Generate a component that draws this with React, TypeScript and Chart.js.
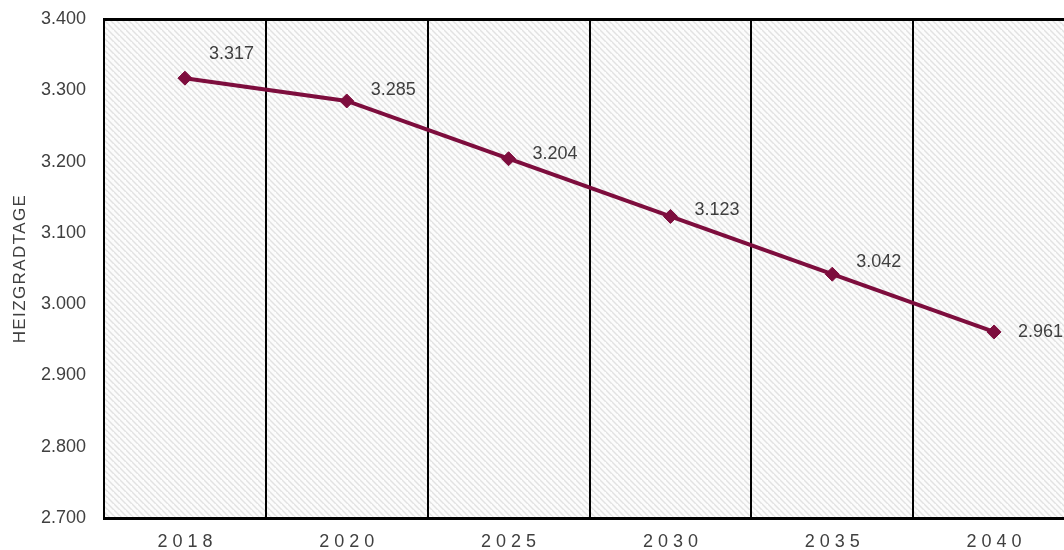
import React, { useEffect, useRef } from "react";
import { Chart, registerables } from "chart.js";

Chart.register(...registerables);

const categories = ["2018", "2020", "2025", "2030", "2035", "2040"];
const heatingDegreeDays = [3317, 3285, 3204, 3123, 3042, 2961];
const valueLabels = ["3.317", "3.285", "3.204", "3.123", "3.042", "2.961"];
const yTickValues = [2700, 2800, 2900, 3000, 3100, 3200, 3300, 3400];
const yAxisTitle = "HEIZGRADTAGE";

const labelDy = [-24, -11, -5, -6, -12, 0];
const FONT = "'Liberation Sans', Arial, sans-serif";

const fmt = (v: number) => {
  const s = String(Math.round(v));
  return s.length > 3 ? s.slice(0, s.length - 3) + "." + s.slice(-3) : s;
};

function makePattern(ctx: CanvasRenderingContext2D) {
  const size = 6;
  const c = document.createElement("canvas");
  c.width = size;
  c.height = size;
  const p = c.getContext("2d")!;
  p.fillStyle = "#fcfcfc";
  p.fillRect(0, 0, size, size);
  p.strokeStyle = "#e2e2e2";
  p.lineWidth = 1.5;
  p.beginPath();
  p.moveTo(-1, -1);
  p.lineTo(size + 1, size + 1);
  p.moveTo(-size - 1, -1);
  p.lineTo(1, size + 1);
  p.moveTo(size - 1, -size - 1);
  p.lineTo(2 * size + 1, size + 1);
  p.stroke();
  return ctx.createPattern(c, "repeat");
}

export default function App() {
  const ref = useRef<HTMLCanvasElement>(null);
  useEffect(() => {
    const canvas = ref.current!;
    const bgPlugin = {
      id: "hatchBg",
      beforeDraw(chart: any) {
        const { ctx, chartArea } = chart;
        ctx.save();
        const pat = makePattern(ctx);
        if (pat) ctx.fillStyle = pat;
        ctx.fillRect(chartArea.left, chartArea.top, chartArea.right - chartArea.left, chartArea.bottom - chartArea.top);
        ctx.restore();
      },
    };
    const labelsPlugin = {
      id: "valueLabels",
      afterDraw(chart: any) {
        const { ctx, chartArea } = chart;
        const xs = chart.scales.x;
        ctx.save();
        // x tick labels with letter spacing
        ctx.font = `18px ${FONT}`;
        ctx.fillStyle = "#404040";
        (ctx as any).letterSpacing = "5px";
        ctx.textAlign = "center";
        ctx.textBaseline = "middle";
        categories.forEach((c, i) => {
          const x = xs.getPixelForValue(i);
          ctx.fillText(c, x + 2.5, chartArea.bottom + 24);
        });
        // y axis title
        ctx.save();
        ctx.font = `17px ${FONT}`;
        (ctx as any).letterSpacing = "1.4px";
        ctx.translate(20, (chartArea.top + chartArea.bottom) / 2);
        ctx.rotate(-Math.PI / 2);
        ctx.fillText(yAxisTitle, 0, 0);
        ctx.restore();
        (ctx as any).letterSpacing = "0px";
        // value labels
        const meta = chart.getDatasetMeta(0);
        ctx.textAlign = "left";
        ctx.font = `18px ${FONT}`;
        meta.data.forEach((pt: any, i: number) => {
          ctx.fillText(valueLabels[i], pt.x + 24, pt.y + labelDy[i]);
        });
        ctx.restore();
      },
    };
    const chart = new Chart(canvas, {
      type: "line",
      data: {
        labels: categories,
        datasets: [
          {
            data: heatingDegreeDays,
            borderColor: "#7d0d3d",
            backgroundColor: "#7d0d3d",
            borderWidth: 4,
            pointStyle: "rectRot",
            pointRadius: 7,
            pointHoverRadius: 7,
            pointBorderWidth: 1,
            tension: 0,
          },
        ],
      },
      options: {
        animation: false,
        responsive: false,
        maintainAspectRatio: false,
        layout: { padding: { top: 19, left: 0, right: 0, bottom: 0 } },
        plugins: { legend: { display: false }, tooltip: { enabled: false } },
        scales: {
          x: {
            offset: true,
            grid: { offset: true, color: "#000", lineWidth: 2, drawTicks: false },
            border: { color: "#000", width: 3 },
            ticks: { display: false },
            afterFit(scale: any) {
              scale.height = 32;
              scale.paddingLeft = 0;
              scale.paddingRight = 0;
            },
          },
          y: {
            min: 2700,
            max: 3400,
            afterBuildTicks(scale: any) {
              scale.ticks = yTickValues.map((v) => ({ value: v }));
            },
            ticks: {
              callback: (v: any) => fmt(Number(v)),
              color: "#404040",
              font: { size: 18, family: FONT },
              padding: 18,
            },
            grid: {
              drawTicks: false,
              color: (c: any) => (c.tick && c.tick.value === 3400 ? "#000" : "rgba(0,0,0,0)"),
              lineWidth: (c: any) => (c.tick && c.tick.value === 3400 ? 3 : 0),
            },
            border: { color: "#000", width: 2 },
            afterFit(scale: any) {
              scale.width = 104;
              scale.paddingTop = 0;
              scale.paddingBottom = 0;
            },
          },
        },
      },
      plugins: [bgPlugin, labelsPlugin],
    });
    return () => chart.destroy();
  }, []);
  return (
    <div style={{ position: "fixed", left: 0, top: 0, width: 1064, height: 550, overflow: "hidden", background: "#fff" }}>
      <canvas ref={ref} width={1083} height={550} style={{ display: "block", width: 1083, height: 550 }} />
    </div>
  );
}
